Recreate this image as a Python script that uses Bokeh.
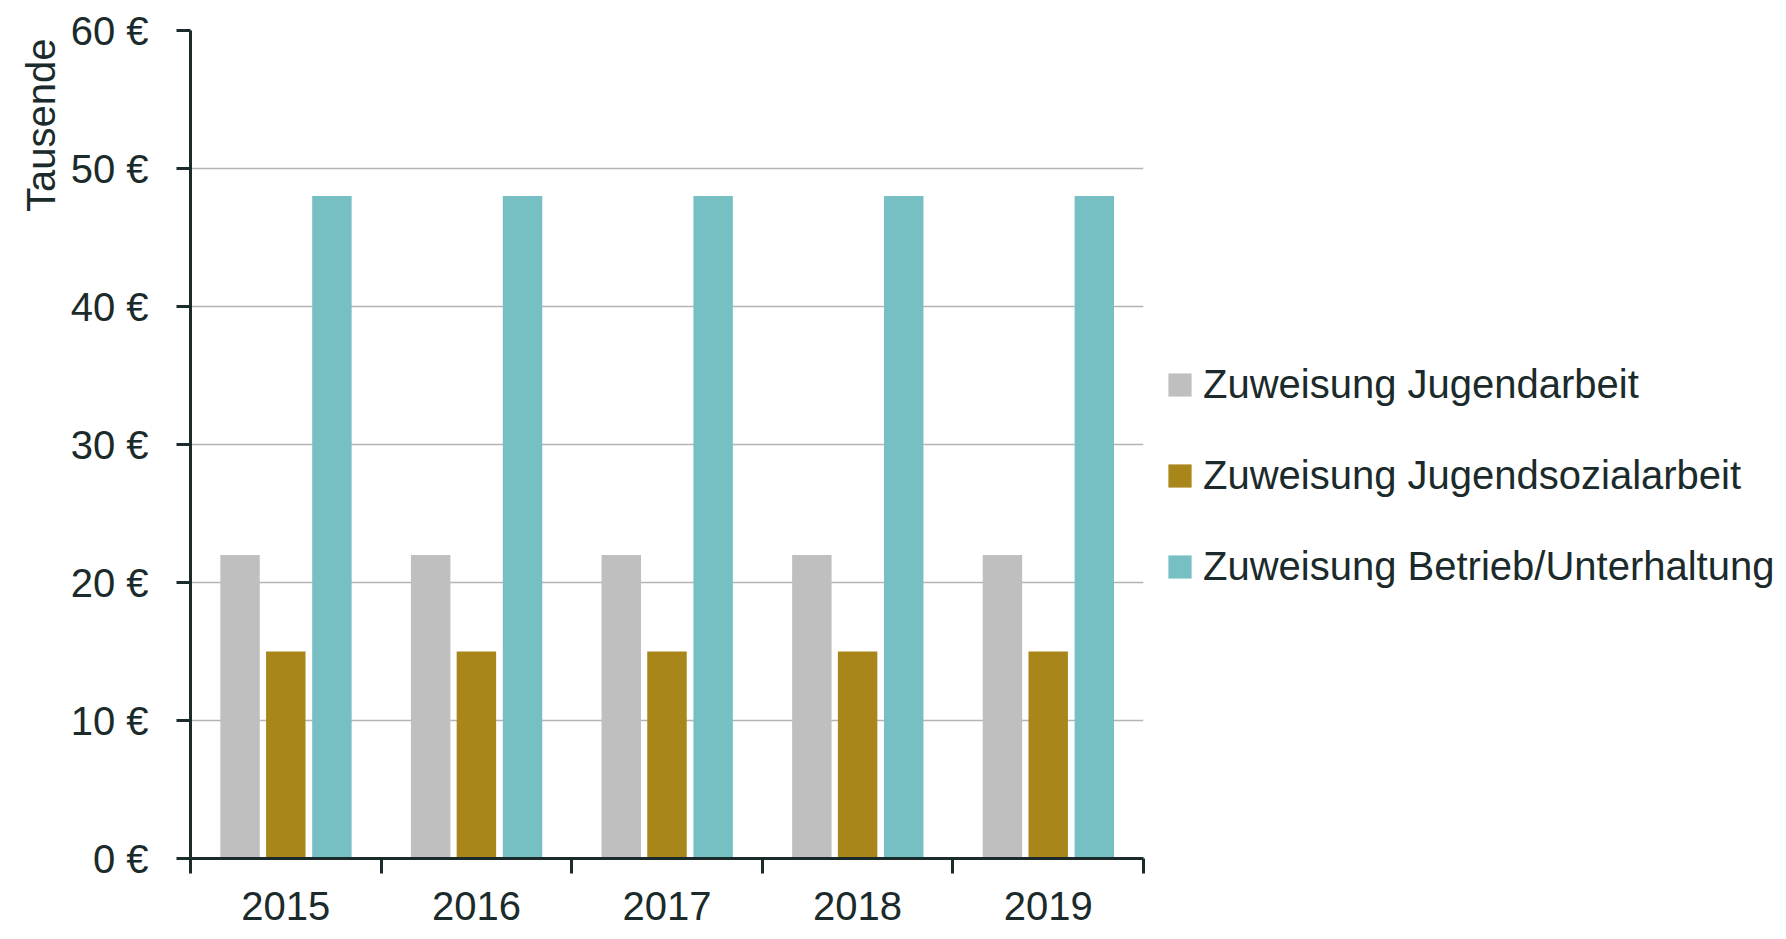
from bokeh.plotting import figure
from bokeh.models import (FixedTicker, PrintfTickFormatter, Legend, LegendItem,
                          Title, Range1d, ColumnDataSource)
from bokeh.transform import dodge
from bokeh.embed import file_html
from bokeh.resources import INLINE

years = ["2015", "2016", "2017", "2018", "2019"]
jugendarbeit = [22, 22, 22, 22, 22]
jugendsozialarbeit = [15, 15, 15, 15, 15]
betrieb = [48, 48, 48, 48, 48]
series_names = ["Zuweisung Jugendarbeit", "Zuweisung Jugendsozialarbeit",
                "Zuweisung Betrieb/Unterhaltung"]
colors = ["#BFBFBF", "#A8861A", "#76C0C4"]
y_ticks = [0, 10, 20, 30, 40, 50, 60]

FONT = "Liberation Sans"
TXT = "#1B2A2A"
FS = "40px"

xpos = [i + 0.5 for i in range(len(years))]
src = ColumnDataSource(dict(x=xpos, a=jugendarbeit, b=jugendsozialarbeit, c=betrieb))

p = figure(frame_width=953, frame_height=828, min_border_left=190, min_border_right=627,
           min_border_top=30, min_border_bottom=78,
           x_range=Range1d(0, len(years)), y_range=Range1d(0, 60),
           output_backend="svg", toolbar_location=None)
p.outline_line_color = None
p.background_fill_color = "white"

bw = 0.207
rs = []
for field, off, col in zip(["a", "b", "c"], [-0.24, 0.0, 0.242], colors):
    r = p.vbar(x=dodge("x", off), top=field, width=bw, source=src,
               fill_color=col, line_color=None)
    rs.append(r)

# x axis
xa = p.xaxis[0]
xa.ticker = FixedTicker(ticks=xpos, minor_ticks=list(range(len(years) + 1)))
xa.major_label_overrides = {x: y for x, y in zip(xpos, years)}
xa.major_tick_line_color = None
xa.major_tick_out = 15
xa.major_tick_in = 0
xa.minor_tick_out = 15
xa.minor_tick_in = 0
xa.minor_tick_line_color = TXT
xa.minor_tick_line_width = 3
xa.axis_line_color = TXT
xa.axis_line_width = 3
xa.major_label_text_font = FONT
xa.major_label_text_font_size = FS
xa.major_label_text_color = TXT
xa.major_label_standoff = 18

# y axis
ya = p.yaxis[0]
ya.ticker = FixedTicker(ticks=y_ticks, minor_ticks=[])
ya.formatter = PrintfTickFormatter(format="%d €")
ya.major_tick_out = 14
ya.major_tick_in = 0
ya.major_tick_line_width = 3
ya.major_tick_line_color = TXT
ya.axis_line_color = TXT
ya.axis_line_width = 3
ya.major_label_text_font = FONT
ya.major_label_text_font_size = FS
ya.major_label_text_color = TXT
ya.major_label_standoff = 28

p.xgrid.grid_line_color = None
p.ygrid.grid_line_color = "#B4B4B4"
p.ygrid.grid_line_width = 1.5
p.ygrid.ticker = FixedTicker(ticks=y_ticks)

t = Title(text="Tausende", align="right", text_font=FONT, text_font_size=FS,
          text_font_style="normal", text_color=TXT, offset=8)
p.add_layout(t, "left")

legend = Legend(items=[LegendItem(label=n, renderers=[r]) for n, r in zip(series_names, rs)],
                location=(22, 269), label_text_font=FONT, label_text_font_size=FS,
                label_text_color=TXT, glyph_width=29, glyph_height=29,
                label_standoff=9, spacing=46, padding=15, margin=0,
                border_line_color=None, background_fill_alpha=0)
p.add_layout(legend, "right")

open("out.html", "w").write(file_html(p, INLINE))
